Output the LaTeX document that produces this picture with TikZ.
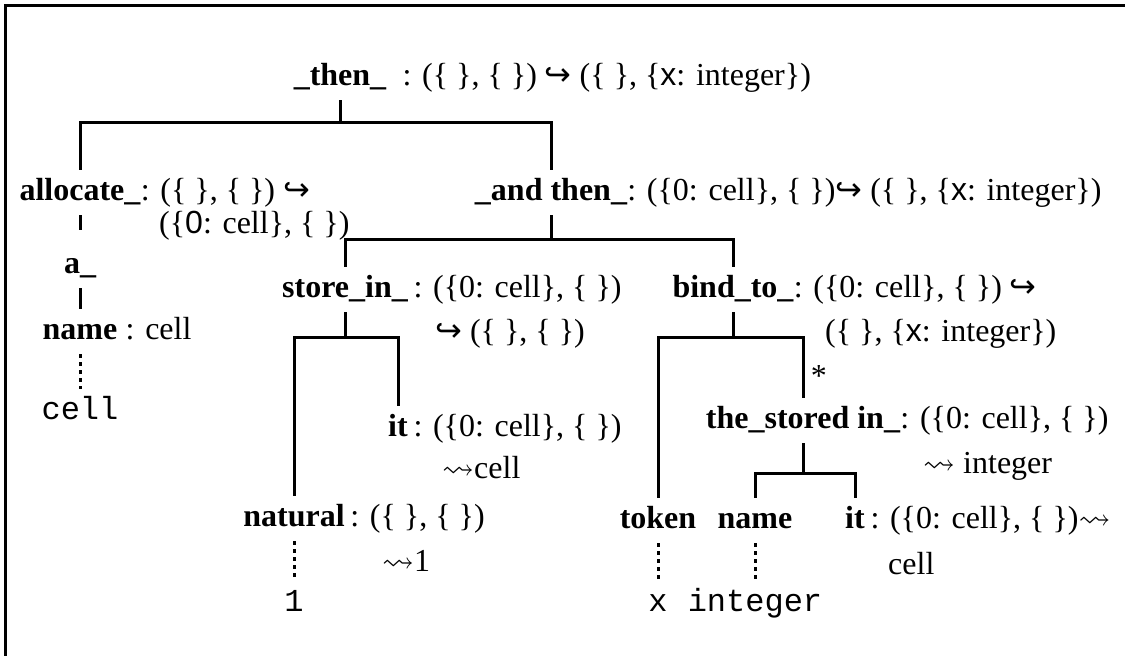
\documentclass[tikz,border=0pt]{standalone}
\usepackage{amssymb}
\usepackage{fontspec}
\setmainfont{Liberation Serif}
\setsansfont{Liberation Sans}
\setmonofont{Liberation Mono}
\newfontfamily\arrowfont{DejaVu Sans}
\newcommand{\hookarr}{{\arrowfont\char"21AA}}
\newcommand{\squigarr}{$\rightsquigarrow$}

\tikzset{
  lbl/.style={font=\fontsize{32}{38}\selectfont, inner xsep=0pt, inner ysep=9pt,
    text height=21pt, text depth=6pt},
  term/.style={lbl, font=\fontsize{32}{38}\selectfont\bfseries, anchor=base},
  sort/.style={lbl, inner ysep=1pt, anchor=base west},
  code/.style={lbl, font=\fontsize{32}{38}\selectfont\ttfamily, anchor=base},
  branch/.style={line width=3pt},
  trail/.style={line width=3pt, dash pattern=on 4pt off 4pt}
}

\begin{document}
\begin{tikzpicture}[x=1pt, y=-1pt]
    \useasboundingbox (0,0) rectangle (1125,656);

    % Frame
    \draw[line width=3pt] (1125,5) -- (5,5) -- (5,656);

    % Root
    \node[term] (then) at (340,85) {\_then\_};
    \node[sort] (thenT) at (then.base east) {\ \ : (\{ \}, \{ \}) \hookarr\ (\{ \}, \{\textsf{x}: integer\})};

    % allocate_ branch
    \node[term] (alloc) at (80,200) {allocate\_};
    \node[sort] (allocT) at (alloc.base east) {: (\{ \}, \{ \}) \hookarr};
    \node[sort] (allocT2) at (159,233) {(\{\textsf{0}: cell\}, \{ \})};
    \node[term] (a) at (80,273) {a\_};
    \node[term] (name1) at (80,339) {name};
    \node[sort] (name1T) at (name1.base east) {\ : cell};
    \node[code] (cell1) at (80,419) {cell};

    % _and then_ branch
    \node[term] (andthen) at (551,200) {\_and then\_};
    \node[sort] (andthenT) at (andthen.base east) {: (\{0: cell\}, \{ \})\hookarr\ (\{ \}, \{\textsf{x}: integer\})};

    % store_in_ and its operands
    \node[term] (storein) at (345,297) {store\_in\_};
    \node[sort] (storeinT) at (storein.base east) {\,: (\{0: cell\}, \{ \})};
    \node[sort] (storeinT2) at (435,341) {\hookarr\ (\{ \}, \{ \})};
    \node[term] (it1) at (398,436) {it};
    \node[sort] (it1T) at (it1.base east) {\,: (\{0: cell\}, \{ \})};
    \node[sort] (it1T2) at (442,478) {\squigarr cell};
    \node[term] (natural) at (294,526) {natural};
    \node[sort] (naturalT) at (natural.base east) {\,: (\{ \}, \{ \})};
    \node[sort] (naturalT2) at (382,571) {\squigarr 1};
    \node[code] (one) at (294,611) {1};

    % bind_to_ and its operands
    \node[term] (bindto) at (733,297) {bind\_to\_};
    \node[sort] (bindtoT) at (bindto.base east) {: (\{0: cell\}, \{ \}) \hookarr};
    \node[sort] (bindtoT2) at (825,341) {(\{ \}, \{\textsf{x}: integer\})};
    \node[term] (storedin) at (803,428) {the\_stored in\_};
    \node[sort] (storedinT) at (storedin.base east) {: (\{0: cell\}, \{ \})};
    \node[sort] (storedinT2) at (923,473) {\squigarr\ integer};
    \node[term] (token) at (658,528) {token};
    \node[term] (name2) at (755,528) {name};
    \node[term] (it2) at (855,528) {it};
    \node[sort] (it2T) at (it2.base east) {\,: (\{0: cell\}, \{ \})\squigarr};
    \node[sort] (it2T2) at (888,574) {cell};
    \node[code] (x) at (658,611) {x};
    \node[code] (integer) at (755,611) {integer};

    % Tree edges
    \draw[branch] (then.south) -- ++(0,22) -| (alloc.north);
    \draw[branch] (then.south) -- ++(0,22) -| (andthen.north);
    \draw[branch, shorten >=13pt] (alloc.south) -- (a.north);
    \draw[branch] (a.south) -- (name1.north);
    \draw[trail] (name1.south) -- (cell1.north);

    \draw[branch] (andthen.south) -- ++(0,24) -| (storein.north);
    \draw[branch] (andthen.south) -- ++(0,24) -| (bindto.north);

    \draw[branch] (storein.south) -- ++(0,25) -| (natural.north);
    \draw[branch] (storein.south) -- ++(0,25) -| (it1.north);
    \draw[trail] (natural.south) -- (one.north);

    \draw[branch] (bindto.south) -- ++(0,25) -| (token.north);
    \draw[branch] (bindto.south) -- ++(0,25) -| node[pos=0.82, right=3pt, font=\fontsize{32}{38}\selectfont] (star) {*} (storedin.north);
    \draw[trail] (token.south) -- (x.north);

    \draw[branch] (storedin.south) -- ++(0,30) -| (name2.north);
    \draw[branch] (storedin.south) -- ++(0,30) -| (it2.north);
    \draw[trail] (name2.south) -- (integer.north);
\end{tikzpicture}
\end{document}
